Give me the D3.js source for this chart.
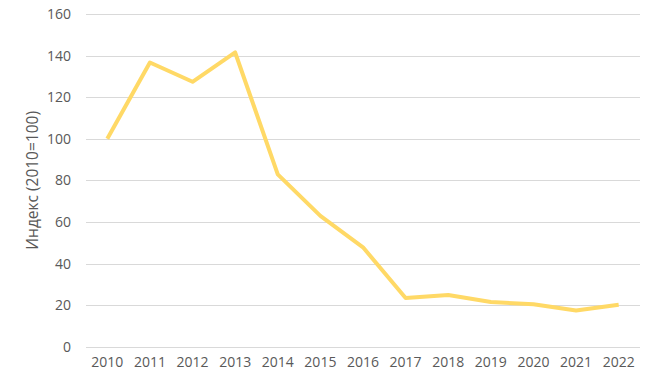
<!DOCTYPE html>
<html>
<head>
<meta charset="utf-8">
<script src="https://cdnjs.cloudflare.com/ajax/libs/d3/7.8.5/d3.min.js"></script>
<style>
  body { margin: 0; background: #fff; }
  text { font-family: "Open Sans", "Noto Sans", sans-serif; fill: #595959; }
</style>
</head>
<body>
<div class="canvas"></div>
<script>
var years = ["2010", "2011", "2012", "2013", "2014", "2015", "2016", "2017", "2018", "2019", "2020", "2021", "2022"];
var values = [100, 136.7, 127.4, 141.5, 82.9, 62.9, 47.8, 23.4, 24.9, 21.5, 20.4, 17.4, 20.2];
var yTicks = [0, 20, 40, 60, 80, 100, 120, 140, 160];
var yTitle = "Индекс (2010=100)";

(function linechart() {
  var W = 657, H = 383;
  var margin = { top: 14, right: 17, bottom: 36, left: 86 };
  var width = W - margin.left - margin.right;
  var height = 346.7 - margin.top;

  var svg = d3.select(".canvas")
    .append("svg")
    .attr("width", W)
    .attr("height", H);

  var g = svg.append("g")
    .attr("transform", "translate(" + margin.left + "," + margin.top + ")");

  var x = d3.scaleBand().domain(years).range([0, width]).padding(0);
  var y = d3.scaleLinear().domain([0, 160]).range([height, 0]);

  // gridlines
  g.selectAll(".grid")
    .data(yTicks)
    .enter()
    .append("line")
    .attr("x1", 0)
    .attr("x2", width)
    .attr("y1", function(d){ return Math.round(y(d)) + 0.5; })
    .attr("y2", function(d){ return Math.round(y(d)) + 0.5; })
    .attr("stroke", "#d9d9d9")
    .attr("stroke-width", 1);

  // y labels
  var yAxis = d3.axisLeft(y).tickValues(yTicks).tickSize(0).tickPadding(15);
  g.append("g").call(yAxis)
    .call(function(a){ a.select(".domain").remove(); })
    .selectAll("text")
    .style("font-size", "14px")
    .attr("fill", "#595959");

  // x labels
  var xAxis = d3.axisBottom(x).tickSize(0).tickPadding(10);
  g.append("g")
    .attr("transform", "translate(0," + height + ")")
    .call(xAxis)
    .call(function(a){ a.select(".domain").remove(); })
    .selectAll("text")
    .style("font-size", "14px")
    .attr("fill", "#595959");

  svg.selectAll(".tick text").style("font-family", "'Open Sans', sans-serif");

  // line
  var line = d3.line()
    .x(function(d, i){ return x(years[i]) + x.bandwidth() / 2; })
    .y(function(d){ return y(d); });

  g.append("path")
    .datum(values)
    .attr("d", line)
    .attr("fill", "none")
    .attr("stroke", "#FFD966")
    .attr("stroke-width", 4)
    .attr("stroke-linejoin", "round");

  // y title
  svg.append("text")
    .attr("transform", "translate(38," + (margin.top + height / 2) + ") rotate(-90)")
    .attr("text-anchor", "middle")
    .style("font-size", "15.5px")
    .text(yTitle);
})();
</script>
</body>
</html>
